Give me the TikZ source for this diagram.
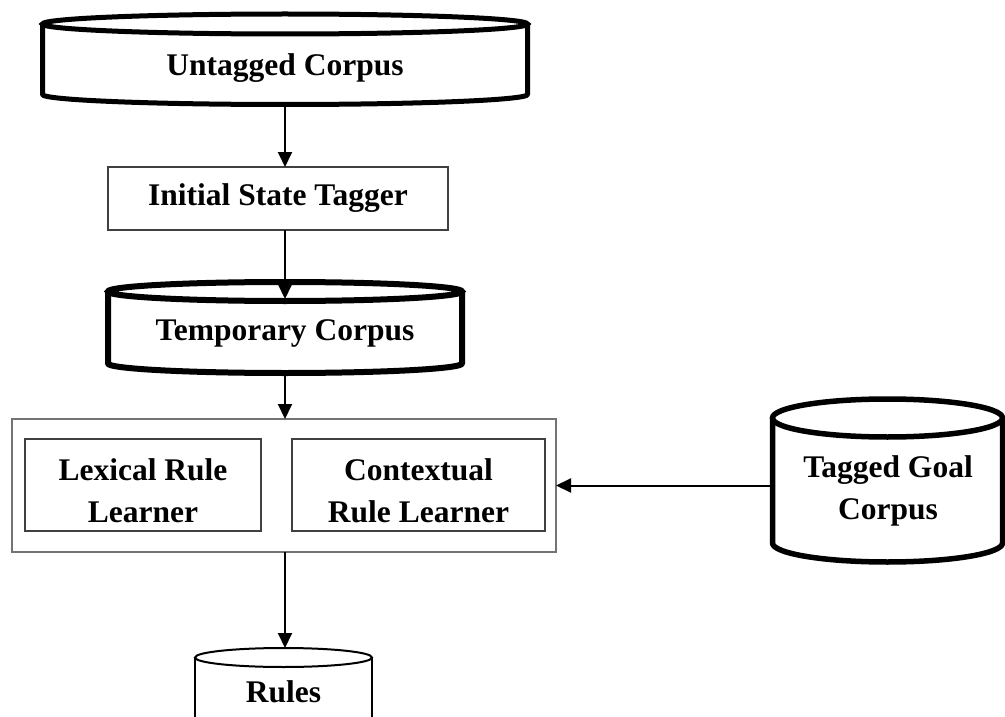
\documentclass[tikz,border=0pt]{standalone}
\usepackage{fontspec}
\setmainfont{Liberation Serif}
\usetikzlibrary{arrows.meta,calc}
\newcommand\drawcyl[4]{%
  \draw[line width=#4] ($(#1.north)+(0,#3)$) ellipse [x radius=#2pt, y radius=#3pt];
  \draw[line width=#4, line join=round] ($(#1.north)+(-#2,#3)$) -- ($(#1.south)+(-#2,-#3)$)
    arc[start angle=180,end angle=360,x radius=#2pt,y radius=#3pt] -- ($(#1.north)+(#2,#3)$);}
\begin{document}
\begin{tikzpicture}[x=1pt,y=-1pt,
  shapebox/.style={draw=none,rectangle,inner sep=0pt,outer sep=0pt},
  lbl/.style={font=\fontsize{31.5}{42}\selectfont\bfseries,align=center,inner sep=0pt},
  procbox/.style={draw=black!75,line width=1.5pt,rectangle,inner sep=0pt,outer sep=0pt},
  groupbox/.style={draw=black!55,line width=1.5pt,rectangle,inner sep=0pt,outer sep=0pt},
  flow/.style={line width=2pt,-{Triangle[length=15pt,width=14pt]}},
]
\useasboundingbox (0,0) rectangle (1005,717);
\clip (0,0) rectangle (1005,717);
\fill[white] (0,0) rectangle (1005,717);

% cylinders (shape holders)
\node[shapebox, minimum width=485pt, minimum height=90.5pt] (untagged) at (285,59.25) {};
\node[shapebox, minimum width=354pt, minimum height=91pt] (temp) at (285,327.5) {};
\node[shapebox, minimum width=230pt, minimum height=163pt] (tagged) at (887.5,480.5) {};
\node[shapebox, minimum width=177pt, minimum height=82pt] (rules) at (283.5,689) {};

\drawcyl{untagged}{242.5}{10}{5pt}
\drawcyl{temp}{177}{9.5}{6pt}
\drawcyl{tagged}{115}{19}{5.5pt}
\draw[line width=2pt] ($(rules.north)+(0,9.5)$) ellipse [x radius=88.5pt, y radius=9.5pt];
\draw[line width=2pt] ($(rules.north)+(-88.5,9.5)$) -- ($(rules.south)+(-88.5,0)$);
\draw[line width=2pt] ($(rules.north)+(88.5,9.5)$) -- ($(rules.south)+(88.5,0)$);

% labels of cylinders
\node[lbl] (untaggedtxt) at (285,68) {Untagged Corpus};
\node[lbl] (temptxt) at (285,333) {Temporary Corpus};
\node[lbl] (taggedtxt) at (888,490.5) {Tagged Goal\\Corpus};
\node[lbl] (rulestxt) at (283.5,692) {Rules};

% process boxes
\node[procbox, lbl, minimum width=340pt, minimum height=63pt] (init) at (278,198.5) {Initial State Tagger};
\node[groupbox, minimum width=544pt, minimum height=133pt] (big) at (284,485.5) {};
\node[procbox, minimum width=236pt, minimum height=92pt] (lex) at (143,485) {};
\node[procbox, minimum width=253pt, minimum height=92pt] (ctx) at (418.5,485) {};
\node[lbl] (lextxt) at (143,490.5) {Lexical Rule\\Learner};
\node[lbl] (ctxtxt) at (418.5,490.5) {Contextual\\Rule Learner};

% connectors
\draw[flow] ([yshift=-2.5pt]untagged.south) -- (untagged.south |- init.north);
\draw[flow] (init.south -| untagged.south) -- ([yshift=-17pt]temp.north);
\draw[flow] ([yshift=-3pt]temp.south) -- (temp.south |- big.north);
\draw[flow] (big.south -| temp.south) -- (temp.south |- rules.north);
\draw[flow] (big.east -| tagged.west) -- (big.east);
\end{tikzpicture}
\end{document}
